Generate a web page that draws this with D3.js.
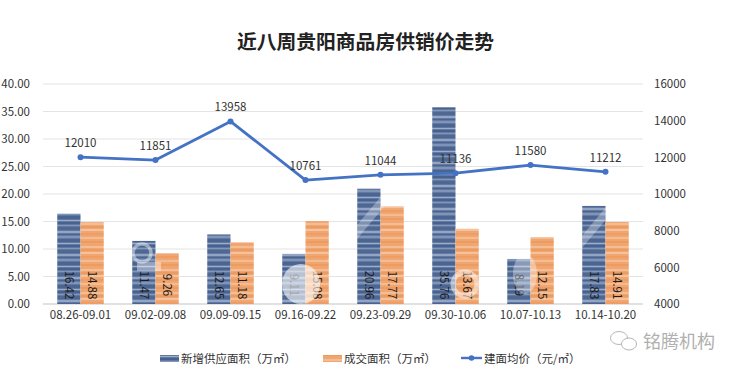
<!DOCTYPE html>
<html>
<head>
<meta charset="utf-8">
<script src="https://cdn.jsdelivr.net/npm/d3@7"></script>
<style>
  html, body { margin: 0; padding: 0; background: #fff; }
  text { font-family: "Noto Sans CJK SC", "Noto Sans", sans-serif; fill: #333; }
</style>
</head>
<body>
<svg width="740" height="374"></svg>
<script>
// values
var weeks = ['08.26-09.01', '09.02-09.08', '09.09-09.15', '09.16-09.22', '09.23-09.29', '09.30-10.06', '10.07-10.13', '10.14-10.20'];
var supply = [16.42, 11.47, 12.65, 9.11, 20.96, 35.76, 8.19, 17.83];
var sales = [14.88, 9.26, 11.18, 15.08, 17.77, 13.67, 12.15, 14.91];
var price = [12010, 11851, 13958, 10761, 11044, 11136, 11580, 11212];
var leftTicks = [0, 5, 10, 15, 20, 25, 30, 35, 40];
var rightTicks = [4000, 6000, 8000, 10000, 12000, 14000, 16000];

var margin = { top: 84, right: 97, bottom: 70, left: 43 };
var width = 740, height = 374;
var chartWidth = width - margin.left - margin.right;
var chartHeight = height - margin.top - margin.bottom;

var svg = d3.select('svg');
var g = svg.append('g').attr('transform', 'translate(' + margin.left + ',' + margin.top + ')');

var x = d3.scaleBand().domain(weeks).range([0, chartWidth]).paddingInner(0).paddingOuter(0);
var inner = d3.scaleBand().domain(['supply', 'sales']).range([x.bandwidth() * 0.19, x.bandwidth() * 0.81]);
var yArea = d3.scaleLinear().domain([0, 40]).range([chartHeight, 0]);
var yPrice = d3.scaleLinear().domain([4000, 16000]).range([chartHeight, 0]);

// stripes on the bars
function stripes(id, base, bands) {
  var p = svg.append('defs').append('pattern')
    .attr('id', id)
    .attr('patternUnits', 'userSpaceOnUse')
    .attr('width', 10)
    .attr('height', 23);
  p.append('rect').attr('width', 10).attr('height', 23).attr('fill', base);
  bands.forEach(function (b) {
    p.append('rect').attr('y', b[0]).attr('width', 10).attr('height', b[1]).attr('fill', b[2]);
  });
}
stripes('blueStripe', '#6179a3', [[0, 2, '#48628f'], [3, 1, '#8398b9'], [5, 3, '#4f6892'], [9, 2, '#93a5c3'], [12, 1, '#4a648f'], [14, 2, '#7f94b6'], [17, 3, '#4b6591'], [21, 1, '#9badc8']]);
stripes('orangeStripe', '#f0a671', [[1, 2, '#f5bd95'], [4, 2, '#ee9b60'], [7, 2, '#f6c29d'], [11, 2, '#ee9d64'], [15, 2, '#f5bb92'], [19, 2, '#ee9b60']]);

// gridlines
g.selectAll('.grid')
  .data(leftTicks)
  .enter()
  .append('line')
  .attr('class', 'grid')
  .attr('x1', 0)
  .attr('x2', chartWidth)
  .attr('y1', function (d) { return yArea(d); })
  .attr('y2', function (d) { return yArea(d); })
  .attr('stroke', function (d) { return d === 0 ? '#c4c4c4' : '#e4e4e4'; })
  .attr('stroke-width', 1.2);

// bars
var groups = g.selectAll('.week')
  .data(weeks)
  .enter()
  .append('g')
  .attr('class', 'week')
  .attr('transform', function (d) { return 'translate(' + x(d) + ',0)'; });

groups.append('rect')
  .attr('x', inner('supply'))
  .attr('width', inner.bandwidth())
  .attr('y', function (d, i) { return yArea(supply[i]); })
  .attr('height', function (d, i) { return chartHeight - yArea(supply[i]); })
  .attr('fill', 'url(#blueStripe)');

groups.append('rect')
  .attr('x', inner('sales'))
  .attr('width', inner.bandwidth())
  .attr('y', function (d, i) { return yArea(sales[i]); })
  .attr('height', function (d, i) { return chartHeight - yArea(sales[i]); })
  .attr('fill', 'url(#orangeStripe)');

// rotated bar values, reading top to bottom
function barLabel(key, vals) {
  groups.append('text')
    .attr('transform', 'translate(' + (inner(key) + inner.bandwidth() / 2) + ',' + (chartHeight - 19) + ') rotate(90)')
    .attr('dy', '0.35em')
    .attr('text-anchor', 'middle')
    .attr('font-size', 11.5)
    .style('fill', '#1c1c1c')
    .text(function (d, i) { return vals[i].toFixed(2); });
}
barLabel('supply', supply);
barLabel('sales', sales);

// pale photo watermark, only shows on the bars
var clip = svg.append('defs').append('clipPath').attr('id', 'barClip');
weeks.forEach(function (d, i) {
  clip.append('rect')
    .attr('x', x(d) + inner('supply'))
    .attr('width', inner.bandwidth())
    .attr('y', yArea(supply[i]))
    .attr('height', chartHeight - yArea(supply[i]));
  clip.append('rect')
    .attr('x', x(d) + inner('sales'))
    .attr('width', inner.bandwidth())
    .attr('y', yArea(sales[i]))
    .attr('height', chartHeight - yArea(sales[i]));
});
var mark = g.append('g').attr('clip-path', 'url(#barClip)').attr('fill', '#fff');
mark.append('circle').attr('cx', 99).attr('cy', 169).attr('r', 9).attr('fill', 'none').attr('stroke', '#fff').attr('stroke-width', 3.5).attr('opacity', 0.45);
mark.append('rect').attr('x', 94).attr('y', 178).attr('width', 24).attr('height', 9).attr('opacity', 0.4);
mark.append('ellipse').attr('cx', 258).attr('cy', 200).attr('rx', 19).attr('ry', 20).attr('opacity', 0.6);
mark.append('circle').attr('cx', 422).attr('cy', 200).attr('r', 12).attr('fill', 'none').attr('stroke', '#fff').attr('stroke-width', 5).attr('opacity', 0.5);
mark.append('ellipse').attr('cx', 482).attr('cy', 190).attr('rx', 12).attr('ry', 20).attr('opacity', 0.35);
mark.append('rect').attr('x', 312).attr('y', 110).attr('width', 9).attr('height', 90).attr('transform', 'rotate(40 330 150)').attr('opacity', 0.3);
mark.append('rect').attr('x', 545).attr('y', 115).attr('width', 8).attr('height', 70).attr('transform', 'rotate(40 560 150)').attr('opacity', 0.3);

// price line
var line = d3.line()
  .x(function (d, i) { return x(weeks[i]) + x.bandwidth() / 2; })
  .y(function (d) { return yPrice(d); });

g.append('path')
  .datum(price)
  .attr('d', line)
  .attr('fill', 'none')
  .attr('stroke', '#4472c4')
  .attr('stroke-width', 2.8)
  .attr('stroke-linejoin', 'round');

g.selectAll('.dot')
  .data(price)
  .enter()
  .append('circle')
  .attr('class', 'dot')
  .attr('cx', function (d, i) { return x(weeks[i]) + x.bandwidth() / 2; })
  .attr('cy', function (d) { return yPrice(d); })
  .attr('r', 3)
  .attr('fill', '#4472c4');

g.selectAll('.priceLabel')
  .data(price)
  .enter()
  .append('text')
  .attr('class', 'priceLabel')
  .attr('x', function (d, i) { return x(weeks[i]) + x.bandwidth() / 2; })
  .attr('y', function (d) { return yPrice(d) - 10; })
  .attr('text-anchor', 'middle')
  .attr('font-size', 11.5)
  .text(function (d) { return d; });

// axes
var xAxis = g.append('g')
  .attr('transform', 'translate(0,' + chartHeight + ')')
  .call(d3.axisBottom(x).tickSize(0).tickPadding(7));
var leftAxis = g.append('g')
  .call(d3.axisLeft(yArea).tickValues(leftTicks).tickFormat(d3.format('.2f')).tickSize(0).tickPadding(13));
var rightAxis = g.append('g')
  .attr('transform', 'translate(' + chartWidth + ',0)')
  .call(d3.axisRight(yPrice).tickValues(rightTicks).tickFormat(d3.format('d')).tickSize(0).tickPadding(11));

[xAxis, leftAxis, rightAxis].forEach(function (a) {
  a.select('.domain').remove();
  a.selectAll('text').attr('font-size', 11.5).style('font-family', '"Noto Sans CJK SC", "Noto Sans", sans-serif').style('fill', '#333');
});

// title
svg.append('text')
  .attr('x', 365.5)
  .attr('y', 49)
  .attr('text-anchor', 'middle')
  .attr('font-size', 19.8)
  .attr('font-weight', 700)
  .style('fill', '#222')
  .text('近八周贵阳商品房供销价走势');

// legend
var legend = svg.append('g').attr('transform', 'translate(0,358)');
legend.append('rect').attr('x', 160).attr('y', -3).attr('width', 19).attr('height', 7).attr('fill', 'url(#blueStripe)');
legend.append('text').attr('x', 181).attr('y', 5).attr('font-size', 11.5).text('新增供应面积（万㎡）');
legend.append('rect').attr('x', 323).attr('y', -3).attr('width', 19).attr('height', 7).attr('fill', 'url(#orangeStripe)');
legend.append('text').attr('x', 344).attr('y', 5).attr('font-size', 11.5).text('成交面积（万㎡）');
legend.append('line').attr('x1', 461).attr('x2', 482).attr('y1', 0).attr('y2', 0).attr('stroke', '#4472c4').attr('stroke-width', 2.4);
legend.append('circle').attr('cx', 471.5).attr('cy', 0).attr('r', 2.8).attr('fill', '#4472c4');
legend.append('text').attr('x', 484).attr('y', 5).attr('font-size', 11.5).text('建面均价（元/㎡）');

// watermark, bottom right
svg.append('text')
  .attr('x', 643)
  .attr('y', 348)
  .attr('font-size', 18)
  .style('fill', '#b0b0b0')
  .text('铭腾机构');
var wechat = svg.append('g').attr('fill', '#fff').attr('stroke', '#b5b5b5').attr('stroke-width', 1);
wechat.append('ellipse').attr('cx', 619).attr('cy', 338).attr('rx', 8.5).attr('ry', 6.5);
wechat.append('ellipse').attr('cx', 629).attr('cy', 344).attr('rx', 7.5).attr('ry', 6);
</script>
</body>
</html>
